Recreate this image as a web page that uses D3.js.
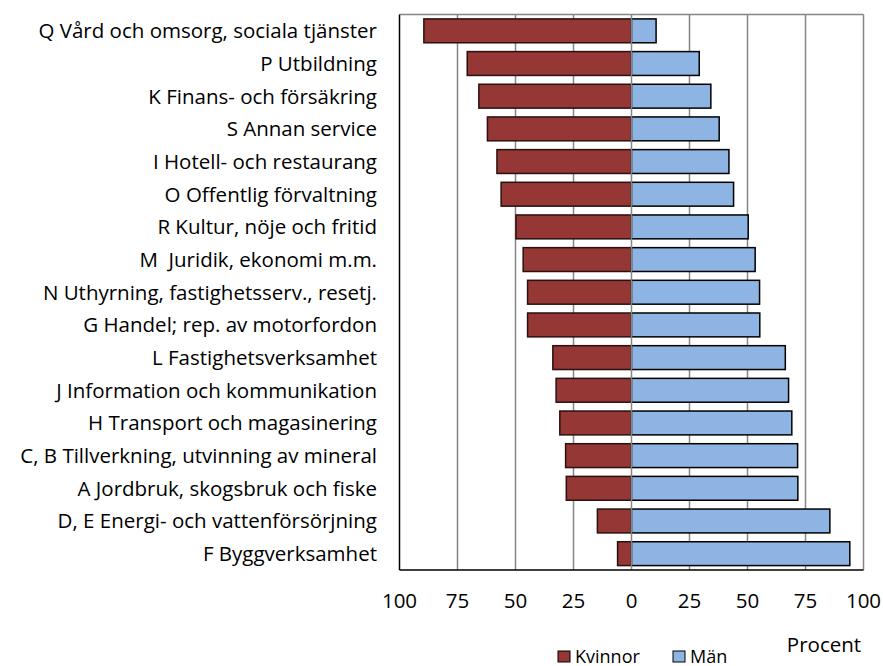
<!DOCTYPE html>
<html>
<head>
<meta charset="utf-8">
<script src="https://cdn.jsdelivr.net/npm/d3@7"></script>
<style>
  body { margin: 0; background: #fff; }
  svg { display: block; }
  text { font-family: "Open Sans", Lato, sans-serif; fill: #000; white-space: pre; }
</style>
</head>
<body>
<svg id="chart" width="883" height="666"></svg>
<script>
// Branches, top to bottom
const branches = [
  'Q Vård och omsorg, sociala tjänster',
  'P Utbildning',
  'K Finans- och försäkring',
  'S Annan service',
  'I Hotell- och restaurang',
  'O Offentlig förvaltning',
  'R Kultur, nöje och fritid',
  'M  Juridik, ekonomi m.m.',
  'N Uthyrning, fastighetsserv., resetj.',
  'G Handel; rep. av motorfordon',
  'L Fastighetsverksamhet',
  'J Information och kommunikation',
  'H Transport och magasinering',
  'C, B Tillverkning, utvinning av mineral',
  'A Jordbruk, skogsbruk och fiske',
  'D, E Energi- och vattenförsörjning',
  'F Byggverksamhet'
];

// Share of employed, percent
const kvinnor = [89.5, 70.8, 65.8, 62.1, 58.0, 56.2, 49.8, 46.7, 44.8, 44.8, 33.9, 32.5, 30.9, 28.4, 28.1, 14.7, 6.0];
const man     = [10.6, 29.2, 34.2, 37.8, 42.0, 44.0, 50.3, 53.3, 55.2, 55.3, 66.3, 67.7, 69.1, 71.6, 71.7, 85.5, 94.1];

const tickValues = [-100, -75, -50, -25, 0, 25, 50, 75, 100];

const rows = branches.map((name, i) => ({ name, k: kvinnor[i], m: man[i] }));

const svg = d3.select('#chart');
const plot = { left: 399.5, right: 863.5, top: 14.5, bottom: 570 };

const x = d3.scaleLinear().domain([-100, 100]).range([plot.left, plot.right]);
const y = d3.scaleBand().domain(branches).range([plot.top, plot.bottom]).paddingInner(0.27).paddingOuter(0.135);

// Gridlines
svg.append('g')
  .selectAll('line')
  .data(tickValues.filter(v => v !== -100 && v !== 0))
  .enter()
  .append('line')
  .attr('x1', d => x(d)).attr('x2', d => x(d))
  .attr('y1', plot.top).attr('y2', plot.bottom)
  .attr('stroke', '#868686')
  .attr('stroke-width', 1.5);

// top border
svg.append('line')
  .attr('x1', plot.left).attr('x2', plot.right)
  .attr('y1', plot.top).attr('y2', plot.top)
  .attr('stroke', '#868686').attr('stroke-width', 1.5);

// Bars
const bars = svg.append('g');
bars.selectAll('rect.k')
  .data(rows)
  .enter()
  .append('rect')
  .attr('class', 'k')
  .attr('x', d => x(-d.k))
  .attr('y', d => y(d.name))
  .attr('width', d => x(0) - x(-d.k))
  .attr('height', y.bandwidth())
  .attr('fill', '#953735')
  .attr('stroke', '#2a1010')
  .attr('stroke-width', 1.5);

bars.selectAll('rect.m')
  .data(rows)
  .enter()
  .append('rect')
  .attr('class', 'm')
  .attr('x', x(0))
  .attr('y', d => y(d.name))
  .attr('width', d => x(d.m) - x(0))
  .attr('height', y.bandwidth())
  .attr('fill', '#8DB4E2')
  .attr('stroke', '#000')
  .attr('stroke-width', 1.5);

// zero line on top
svg.append('line')
  .attr('x1', x(0)).attr('x2', x(0))
  .attr('y1', plot.top).attr('y2', plot.bottom)
  .attr('stroke', '#868686').attr('stroke-width', 1.5);

// left and bottom axis lines
svg.append('line')
  .attr('x1', plot.left).attr('x2', plot.left)
  .attr('y1', plot.top).attr('y2', plot.bottom)
  .attr('stroke', '#000').attr('stroke-width', 1.5);
svg.append('line')
  .attr('x1', plot.left).attr('x2', plot.right)
  .attr('y1', plot.bottom).attr('y2', plot.bottom)
  .attr('stroke', '#000').attr('stroke-width', 1.5);

// Category labels
svg.append('g')
  .selectAll('text')
  .data(branches)
  .enter()
  .append('text')
  .attr('x', 377)
  .attr('y', d => y(d) + y.bandwidth() / 2)
  .attr('dy', '0.36em')
  .attr('text-anchor', 'end')
  .style('font-size', '20.5px')
  .text(d => d);

// Tick labels
svg.append('g')
  .selectAll('text')
  .data(tickValues)
  .enter()
  .append('text')
  .attr('x', d => x(d))
  .attr('y', 608)
  .attr('text-anchor', 'middle')
  .style('font-size', '20.5px')
  .text(d => Math.abs(d));

svg.append('text')
  .attr('x', 824)
  .attr('y', 652)
  .attr('text-anchor', 'middle')
  .style('font-size', '20.5px')
  .text('Procent');

// Legend
const legend = [
  { label: 'Kvinnor', fill: '#953735', x: 558 },
  { label: 'Män', fill: '#8DB4E2', x: 673 }
];
const lg = svg.append('g')
  .selectAll('g')
  .data(legend)
  .enter()
  .append('g')
  .attr('transform', d => `translate(${d.x},651)`);
lg.append('rect')
  .attr('width', 12).attr('height', 11)
  .attr('fill', d => d.fill)
  .attr('stroke', '#000').attr('stroke-width', 1);
lg.append('text')
  .attr('x', 17)
  .attr('y', 11.5)
  .style('font-size', '18px')
  .text(d => d.label);
</script>
</body>
</html>
